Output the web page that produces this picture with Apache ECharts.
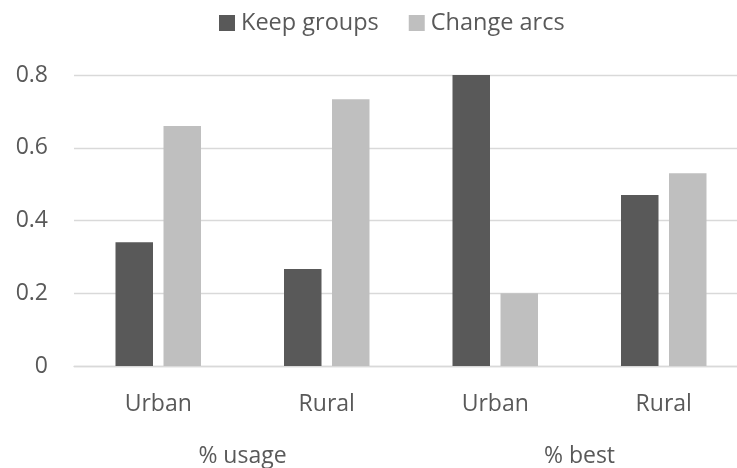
<!DOCTYPE html>
<html>
<head>
<meta charset="utf-8">
<script src="https://cdn.jsdelivr.net/npm/echarts@6/dist/echarts.min.js"></script>
<style>
html,body{margin:0;padding:0;background:#fff;}
#chart{width:737px;height:468px;}
</style>
</head>
<body>
<div id="chart"></div>
<script>
const categories = ['Urban', 'Rural', 'Urban', 'Rural'];
const groupLabels = ['% usage', '% best'];
const keepGroups = [0.34, 0.267, 0.80, 0.47];
const changeArcs = [0.66, 0.733, 0.20, 0.53];
const seriesNames = ['Keep groups', 'Change arcs'];

const FONT = 'Open Sans';
const TXT = '#595959';
const GRID = '#d9d9d9';

const chart = echarts.init(document.getElementById('chart'), null, {renderer: 'canvas'});
chart.setOption({
  animation: false,
  textStyle: {fontFamily: FONT, color: TXT},
  legend: {
    left: 214,
    top: 6,
    icon: 'rect',
    itemWidth: 16,
    itemHeight: 16,
    itemGap: 30,
    textStyle: {fontFamily: FONT, fontSize: 23.5, color: TXT, padding: [0, 0, 0, 1]},
    data: seriesNames
  },
  grid: {left: 74, top: 75, width: 674, height: 291, outerBoundsMode: 'none'},
  xAxis: [
    {
      type: 'category',
      data: categories,
      position: 'bottom',
      axisLine: {show: true, lineStyle: {color: GRID, width: 1.3}},
      axisTick: {show: false},
      axisLabel: {margin: 27, fontFamily: FONT, fontSize: 23, color: TXT, lineHeight: 23}
    },
    {
      type: 'category',
      data: groupLabels,
      position: 'bottom',
      axisLine: {show: false},
      axisTick: {show: false},
      splitLine: {show: false},
      axisLabel: {margin: 79, fontFamily: FONT, fontSize: 23, color: TXT, lineHeight: 23}
    }
  ],
  yAxis: {
    type: 'value',
    min: 0,
    max: 0.8,
    interval: 0.2,
    axisLine: {show: false},
    axisTick: {show: false},
    splitLine: {lineStyle: {color: GRID, width: 1.3}},
    axisLabel: {margin: 26, fontFamily: FONT, fontSize: 23, color: TXT}
  },
  series: [
    {
      name: seriesNames[0],
      type: 'bar',
      data: keepGroups,
      barWidth: 37.5,
      barGap: '28%',
      itemStyle: {color: '#595959'}
    },
    {
      name: seriesNames[1],
      type: 'bar',
      data: changeArcs,
      barWidth: 37.5,
      barGap: '28%',
      itemStyle: {color: '#bfbfbf'}
    }
  ]
});
</script>
</body>
</html>
